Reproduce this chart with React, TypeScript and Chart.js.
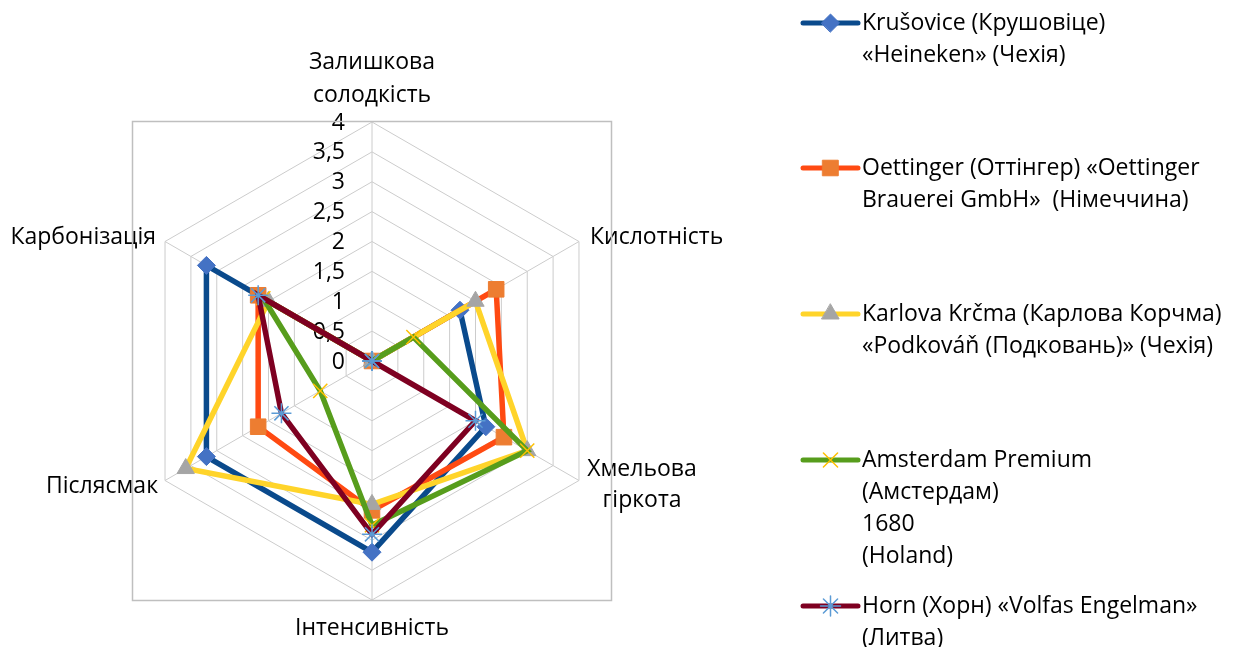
import React, { useEffect, useRef } from 'react';
import { Chart, registerables } from 'chart.js';
import { drawPoint } from 'chart.js/helpers';

Chart.register(...registerables);

// ---------- data ----------
const categories = [
  ['Залишкова', 'солодкість'],
  ['Кислотність'],
  ['Хмельова', 'гіркота'],
  ['Інтенсивність'],
  ['Післясмак'],
  ['Карбонізація'],
];

const krusovice = [0, 1.7, 2.2, 3.2, 3.2, 3.2];
const oettinger = [0, 2.4, 2.55, 2.5, 2.2, 2.2];
const karlova = [0, 2.0, 3.0, 2.4, 3.6, 2.0];
const amsterdam = [0, 0.8, 3.0, 2.75, 1.0, 2.1];
const horn = [0, 0, 2.0, 2.9, 1.75, 2.2];

const seriesLabels = [
  ['Krušovice (Крушовіце)', '«Heineken» (Чехія)'],
  ['Oettinger (Оттінгер) «Oettinger', 'Brauerei GmbH»  (Німеччина)'],
  ['Karlova Krčma (Карлова Корчма)', '«Podkováň (Подковань)» (Чехія)'],
  ['Amsterdam Premium', '(Амстердам)', '1680', '(Holand)'],
  ['Horn (Хорн) «Volfas Engelman»', '(Литва)'],
];

const scaleMin = 0;
const scaleMax = 4;
const scaleStep = 0.5;

// ---------- styles ----------
const FONT = '"Open Sans", "Noto Sans", sans-serif';
const FONT_SIZE = 23;
const TEXT_COLOR = '#000000';
const GRID_COLOR = '#cccccc';

const styles = [
  { line: '#0a4a8c', fill: '#4472c4', stroke: '#4472c4', pointStyle: 'rectRot', radius: 9, pbw: 1 },
  { line: '#ff4a12', fill: '#ed7d31', stroke: '#ed7d31', pointStyle: 'rect', radius: 11, pbw: 1 },
  { line: '#ffd42a', fill: '#a5a5a5', stroke: '#a5a5a5', pointStyle: 'triangle', radius: 10, pbw: 1 },
  { line: '#579d1c', fill: '#ffc000', stroke: '#ffc000', pointStyle: 'crossRot', radius: 10, pbw: 1.5 },
  { line: '#7e0021', fill: '#5b9bd5', stroke: '#5b9bd5', pointStyle: 'star', radius: 10, pbw: 1.5 },
];
const seriesData = [krusovice, oettinger, karlova, amsterdam, horn];

const legendTop = [23, 168, 314, 460, 606];
const LEGEND_LINE_H = 32;

const fmt = (v: number) => String(v).replace('.', ',');

const overlayPlugin = {
  id: 'overlay',
  beforeDatasetsDraw(chart: any) {
    const ctx = chart.ctx as CanvasRenderingContext2D;
    const scale = chart.scales.r;
    const R = scale.drawingArea;
    const cx = scale.xCenter;
    const cy = scale.yCenter;
    ctx.save();
    ctx.fillStyle = TEXT_COLOR;
    ctx.font = `${FONT_SIZE}px ${FONT}`;
    ctx.textBaseline = 'middle';

    // axis (point) labels
    categories.forEach((lines, i) => {
      const p = scale.getPointPosition(i, R);
      if (i === 0) {
        ctx.textAlign = 'center';
        ctx.fillText(lines[0], p.x, p.y - 60);
        ctx.fillText(lines[1], p.x, p.y - 27);
      } else if (i === 1) {
        ctx.textAlign = 'left';
        ctx.fillText(lines[0], p.x + 11, p.y - 4);
      } else if (i === 2) {
        ctx.textAlign = 'center';
        ctx.fillText(lines[0], p.x + 63, p.y - 11);
        ctx.fillText(lines[1], p.x + 63, p.y + 20);
      } else if (i === 3) {
        ctx.textAlign = 'center';
        ctx.fillText(lines[0], p.x, p.y + 28);
      } else if (i === 4) {
        ctx.textAlign = 'right';
        ctx.fillText(lines[0], p.x - 7, p.y + 6);
      } else {
        ctx.textAlign = 'right';
        ctx.fillText(lines[0], p.x - 9, p.y - 4);
      }
    });

    // tick labels
    ctx.textAlign = 'right';
    scale.ticks.forEach((t: any) => {
      const d = scale.getDistanceFromCenterForValue(t.value);
      ctx.fillText(fmt(t.value), cx - 27, cy - d + 1);
    });

    // plot-area border
    ctx.strokeStyle = '#bfbfbf';
    ctx.lineWidth = 1.5;
    ctx.strokeRect(cx - R - 0.5, cy - R - 0.5, 2 * R + 1, 2 * R + 1);
    ctx.restore();
  },
  afterDraw(chart: any) {
    const ctx = chart.ctx as CanvasRenderingContext2D;
    ctx.save();
    const x0 = 803;
    const x1 = 858;
    seriesLabels.forEach((lines, i) => {
      const st = styles[i];
      const y = legendTop[i];
      ctx.strokeStyle = st.line;
      ctx.lineWidth = 5;
      ctx.lineCap = 'round';
      ctx.beginPath();
      ctx.moveTo(x0, y);
      ctx.lineTo(x1, y);
      ctx.stroke();
      ctx.fillStyle = st.fill;
      ctx.strokeStyle = st.stroke;
      ctx.lineWidth = st.pbw;
      drawPoint(ctx, { pointStyle: st.pointStyle, radius: st.radius, rotation: 0, borderWidth: st.pbw } as any, (x0 + x1) / 2, y);
      ctx.fillStyle = TEXT_COLOR;
      ctx.font = `${FONT_SIZE}px ${FONT}`;
      ctx.textAlign = 'left';
      ctx.textBaseline = 'middle';
      lines.forEach((t, k) => ctx.fillText(t, 862, y + k * LEGEND_LINE_H));
    });
    ctx.restore();
  },
};

export default function App() {
  const ref = useRef<HTMLCanvasElement | null>(null);
  useEffect(() => {
    if (!ref.current) return;
    const chart = new Chart(ref.current, {
      type: 'radar',
      data: {
        labels: categories.map((c) => c.join(' ')),
        datasets: seriesData.map((d, i) => ({
          label: seriesLabels[i].join(' '),
          data: d,
          borderColor: styles[i].line,
          backgroundColor: styles[i].line,
          borderWidth: 5.5,
          fill: false,
          pointStyle: styles[i].pointStyle as any,
          pointRadius: styles[i].radius,
          pointBackgroundColor: styles[i].fill,
          pointBorderColor: styles[i].stroke,
          pointBorderWidth: styles[i].pbw,
          order: 5 - i,
          tension: 0,
        })),
      },
      options: {
        responsive: false,
        animation: false,
        devicePixelRatio: 1,
        layout: { padding: { left: 133, top: 122, right: 628, bottom: 47 } },
        plugins: { legend: { display: false }, tooltip: { enabled: false } },
        scales: {
          r: {
            min: scaleMin,
            max: scaleMax,
            ticks: { stepSize: scaleStep, display: false },
            pointLabels: { display: false },
            grid: { color: GRID_COLOR, lineWidth: 1 },
            angleLines: { color: GRID_COLOR, lineWidth: 1 },
          },
        },
      },
      plugins: [overlayPlugin],
    });
    return () => chart.destroy();
  }, []);
  return (
    <div style={{ position: 'absolute', left: 0, top: 0, width: 1240, height: 647, background: '#fff' }}>
      <canvas ref={ref} width={1240} height={647} />
    </div>
  );
}
